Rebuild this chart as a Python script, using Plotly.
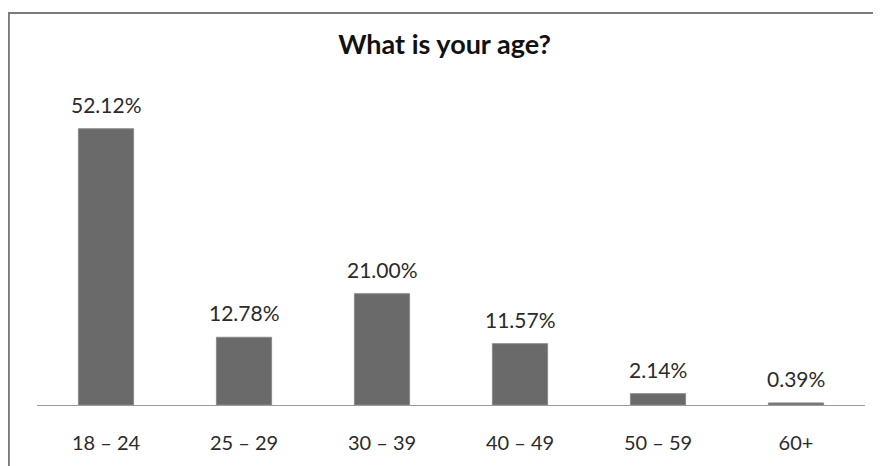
import plotly.graph_objects as go

categories = ["18 \u2013 24", "25 \u2013 29", "30 \u2013 39", "40 \u2013 49", "50 \u2013 59", "60+"]
shares = [52.12, 12.78, 21.00, 11.57, 2.14, 0.39]
labels = ["52.12%", "12.78%", "21.00%", "11.57%", "2.14%", "0.39%"]

BAR = "#6a6a6a"
TEXT = "#2b2b2b"
FONT = "Lato, 'Open Sans', sans-serif"

fig = go.Figure(go.Bar(
    x=categories, y=shares,
    marker=dict(color=BAR, line=dict(color="#8a8a8a", width=1)),
    width=0.4,
))

# value labels sit a little higher above the bars than plotly's outside text
for cat, val, lab in zip(categories, shares, labels):
    fig.add_annotation(x=cat, y=val, text=lab, showarrow=False,
                       yanchor="bottom", yshift=10,
                       font=dict(size=21, color=TEXT, family=FONT))

# outer frame around the chart
fig.add_shape(type="rect", xref="paper", yref="paper",
              x0=-0.034, x1=1.017, y0=-0.3, y1=1.233,
              line=dict(color="#7a7a7a", width=2), layer="below")

# page body adds 8px, so the figure is 8px smaller than the window
fig.update_layout(
    width=873, height=458,
    margin=dict(l=29, r=16, t=79, b=61, autoexpand=False),
    paper_bgcolor="white", plot_bgcolor="white",
    title=dict(text="<b>What is your age?</b>", x=0.5, xanchor="center",
               y=0.92, yanchor="middle",
               font=dict(size=27, color="#111111", family=FONT)),
    showlegend=False,
    xaxis=dict(showline=True, linecolor="#9a9a9a", linewidth=1, automargin=False,
               ticks="outside", ticklen=20, tickcolor="rgba(0,0,0,0)",
               tickfont=dict(size=20, color=TEXT, family=FONT)),
    yaxis=dict(range=[0, 60], visible=False, automargin=False),
)

fig.write_html("out.html")
